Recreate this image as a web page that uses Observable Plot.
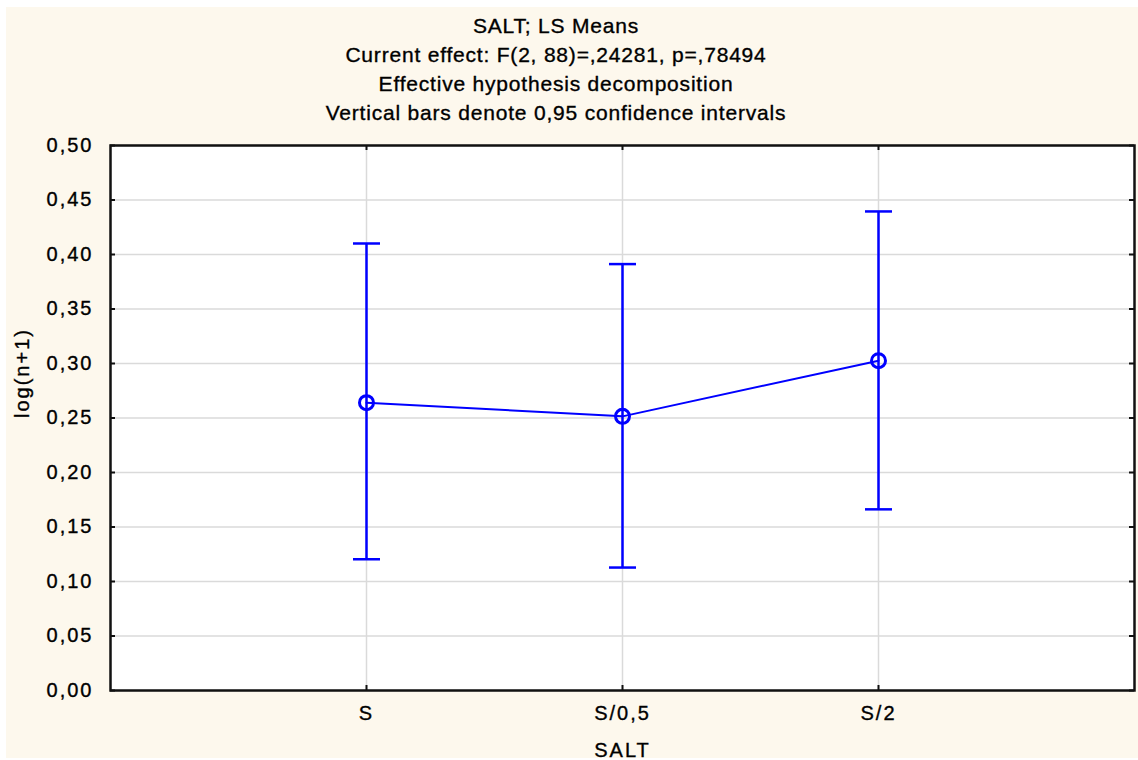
<!DOCTYPE html>
<html><head><meta charset="utf-8">
<script src="https://cdn.jsdelivr.net/npm/d3@7"></script>
<script src="https://cdn.jsdelivr.net/npm/@observablehq/plot@0.6"></script>
<style>
html,body{margin:0;padding:0;background:#fff;}
#wrap{position:relative;width:1138px;height:760px;overflow:hidden;}
#bg{position:absolute;left:6px;top:7px;width:1132px;height:751px;background:#fdf8ed;}
#title{position:absolute;left:0;top:11px;width:1112px;text-align:center;font-family:"Liberation Sans",Arial,sans-serif;font-size:21px;line-height:29px;letter-spacing:0.8px;color:#000;-webkit-text-stroke:0.35px #000;}
#chart{position:absolute;left:0;top:0;}
#chart svg text{letter-spacing:2px;stroke:#000;stroke-width:0.35px;}
</style></head><body>
<div id="wrap"><div id="bg"></div><div id="chart"></div><div id="title"></div></div>
<script>
const categories = ["S", "S/0,5", "S/2"];
const means = [0.2641, 0.2515, 0.3026];
const lower = [0.1204, 0.1128, 0.1662];
const upper = [0.4101, 0.3912, 0.4395];
const yTicks = [0, 0.05, 0.10, 0.15, 0.20, 0.25, 0.30, 0.35, 0.40, 0.45, 0.50];
const yTickLabels = ["0,00","0,05","0,10","0,15","0,20","0,25","0,30","0,35","0,40","0,45","0,50"];
const titleLines = [
  "SALT; LS Means",
  "Current effect: F(2, 88)=,24281, p=,78494",
  "Effective hypothesis decomposition",
  "Vertical bars denote 0,95 confidence intervals"
];
const xLabel = "SALT";
const yLabel = "log(n+1)";

const data = categories.map((c, i) => ({cat: c, mean: means[i], lo: lower[i], hi: upper[i]}));

const titleDiv = document.getElementById("title");
titleLines.forEach(t => { const d = document.createElement("div"); d.textContent = t; titleDiv.appendChild(d); });

const W = 1138, H = 760, mL = 110, mR = 4, mT = 145, mB = 70;
const pw = W - mL - mR, ph = H - mT - mB;
const blue = "#0000ff";
const cap = {draw(ctx) { ctx.moveTo(-13.5, 0); ctx.lineTo(13.5, 0); }};

const chart = Plot.plot({
  width: W, height: H,
  marginLeft: mL, marginRight: mR, marginTop: mT, marginBottom: mB,
  style: {background: "transparent", fontFamily: "Liberation Sans, Arial, sans-serif", fontSize: "20px", color: "#000"},
  x: {type: "point", domain: categories, padding: 1},
  y: {domain: [0, 0.5]},
  marks: [
    Plot.frame({fill: "white", stroke: null}),
    Plot.gridY(yTicks, {stroke: "#dadada", strokeOpacity: 1, strokeWidth: 1.5}),
    Plot.gridX(categories, {stroke: "#dadada", strokeOpacity: 1, strokeWidth: 1.5}),
    Plot.axisY(yTicks, {tickSize: 0, tickPadding: 17, tickFormat: d => yTickLabels[yTicks.indexOf(d)], label: null, fontSize: 20, fill: "#000"}),
    Plot.axisX(categories, {tickSize: 0, tickPadding: 15, label: null, fontSize: 20, fill: "#000"}),
    Plot.tickY(yTicks, {y: d => d, insetRight: pw - 5, stroke: "#111", strokeWidth: 2}),
    Plot.tickY(yTicks, {y: d => d, insetLeft: pw - 5, stroke: "#111", strokeWidth: 2}),
    Plot.tickX(categories, {x: d => d, insetTop: ph - 5, stroke: "#111", strokeWidth: 2}),
    Plot.tickX(categories, {x: d => d, insetBottom: ph - 5, stroke: "#111", strokeWidth: 2}),
    Plot.frame({stroke: "#111", strokeWidth: 2.5}),
    Plot.ruleX(data, {x: "cat", y1: "lo", y2: "hi", stroke: blue, strokeWidth: 2.5}),
    Plot.dot(data, {x: "cat", y: "lo", symbol: cap, r: 5, stroke: blue, strokeWidth: 2.5, fill: "none"}),
    Plot.dot(data, {x: "cat", y: "hi", symbol: cap, r: 5, stroke: blue, strokeWidth: 2.5, fill: "none"}),
    Plot.line(data, {x: "cat", y: "mean", stroke: blue, strokeWidth: 2}),
    Plot.dot(data, {x: "cat", y: "mean", r: 7, stroke: blue, strokeWidth: 3, fill: "none"}),
    Plot.text([xLabel], {text: d => d, frameAnchor: "bottom", dy: 66, lineAnchor: "bottom", fontSize: 20, fill: "#000"}),
    Plot.text([yLabel], {text: d => d, frameAnchor: "left", rotate: -90, dx: -82, lineAnchor: "bottom", fontSize: 20, fill: "#000"})
  ]
});
document.getElementById("chart").appendChild(chart);
</script>
</body></html>
